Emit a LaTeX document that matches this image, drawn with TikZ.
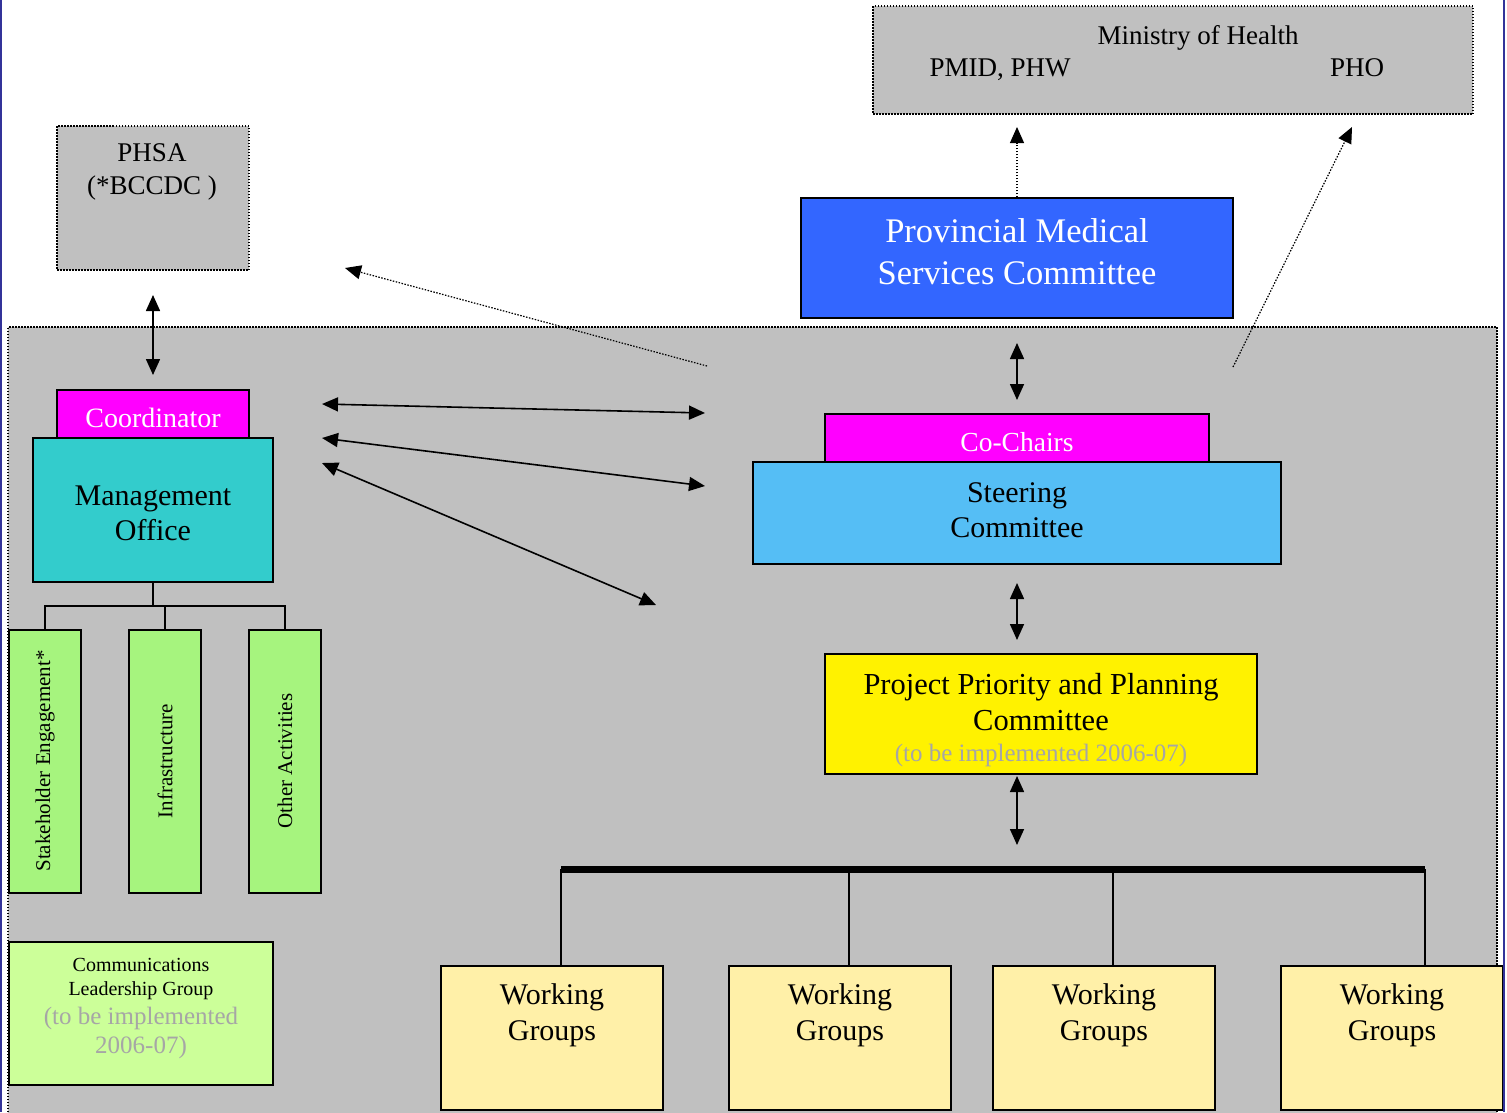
\documentclass[tikz,border=0pt]{standalone}
\usepackage{fontspec}
\setmainfont{Liberation Serif}
\usetikzlibrary{arrows.meta, positioning}
\definecolor{panelgray}{HTML}{C0C0C0}
\definecolor{pmscblue}{HTML}{3366FF}
\definecolor{chairpink}{HTML}{FF00FF}
\definecolor{moteal}{HTML}{33CCCC}
\definecolor{scblue}{HTML}{55BEF5}
\definecolor{actgreen}{HTML}{A6F47E}
\definecolor{commgreen}{HTML}{CCFF99}
\definecolor{wgyellow}{HTML}{FFF0A8}
\definecolor{notegray}{HTML}{A6A6A6}
\definecolor{edgeblue}{HTML}{333399}
\newcommand{\fsz}[2]{\fontsize{#1}{#2}\selectfont}

\begin{document}
\begin{tikzpicture}[x=1pt, y=-1pt,
  box/.style={draw, line width=1.5pt, inner sep=0pt},
  dotbox/.style={draw, fill=panelgray, line width=1.2pt, dash pattern=on 1.5pt off 1.5pt, inner sep=0pt},
  dotarrow/.style={line width=1.2pt, dash pattern=on 1.5pt off 1.5pt, -{Triangle[length=16pt,width=14pt]}},
  dblarrow/.style={line width=1.6pt, {Triangle[length=16pt,width=14pt]}-{Triangle[length=16pt,width=14pt]}},
  txt/.style={align=center, inner sep=0pt}]
  \useasboundingbox (0,0) rectangle (1507,1112);
  \fill[white] (0,0) rectangle (1507,1112);

  % shaded panel
  \draw[fill=panelgray, line width=1.2pt, dash pattern=on 1.5pt off 1.5pt] (8,1130) -- (8,327) -- (1497,327) -- (1497,1130);

  % outside bodies
  \node[dotbox, minimum width=600pt, minimum height=108pt] (ministry) at (1173,60) {};
  \node[txt, anchor=base, font=\fsz{27}{33}] (mh) at (1198,44) {Ministry of Health};
  \node[txt, anchor=base, font=\fsz{27}{33}] (pmid) at (1000,76) {PMID, PHW};
  \node[txt, anchor=base, font=\fsz{27}{33}] (pho) at (1357,76) {PHO};

  \node[dotbox, minimum width=192pt, minimum height=144pt] (phsa) at (153,198) {};
  \node[txt, font=\fsz{27}{33}] (phsa-t) at (152,172) {PHSA\\(*BCCDC )};

  \node[box, fill=pmscblue, minimum width=432pt, minimum height=120pt] (pmsc) at (1017,258) {};
  \node[txt, text=white, font=\fsz{34.5}{42}] (pmsc-t) at (1017,252) {Provincial Medical\\Services Committee};

  % management side
  \node[box, fill=chairpink, minimum width=192pt, minimum height=48pt] (coord) at (153,414) {};
  \node[txt, text=white, font=\fsz{28}{33}] (coord-t) at (153,418) {Coordinator};
  \node[box, fill=moteal, minimum width=240pt, minimum height=144pt] (mo) at (153,510) {};
  \node[txt, font=\fsz{30}{35}] (mo-t) at (153,513) {Management\\Office};

  \node[box, fill=actgreen, minimum width=72pt, minimum height=263pt] (se) at (45,761.5) {};
  \node[box, fill=actgreen, minimum width=72pt, minimum height=263pt] (infra) at (165,761.5) {};
  \node[box, fill=actgreen, minimum width=72pt, minimum height=263pt] (other) at (285,761.5) {};
  \node[txt, rotate=90, font=\fsz{21}{25}] (se-t) at (45,761) {Stakeholder Engagement*};
  \node[txt, rotate=90, font=\fsz{21}{25}] (infra-t) at (165,761) {Infrastructure};
  \node[txt, rotate=90, font=\fsz{21}{25}] (other-t) at (285,761) {Other Activities};

  \node[box, fill=commgreen, minimum width=264pt, minimum height=143pt] (comm) at (141,1013.5) {};
  \node[txt, font=\fsz{20}{24}] (comm-t) at (141,979) {Communications\\Leadership Group};
  \node[txt, text=notegray, font=\fsz{25}{29}] (comm-n) at (141,1033) {(to be implemented\\2006-07)};

  % committee side
  \node[box, fill=chairpink, minimum width=384pt, minimum height=48pt] (chairs) at (1017,438) {};
  \node[txt, text=white, font=\fsz{27.5}{33}] (chairs-t) at (1017,442) {Co-Chairs};
  \node[box, fill=scblue, minimum width=528pt, minimum height=102pt] (sc) at (1017,513) {};
  \node[txt, font=\fsz{30}{35}] (sc-t) at (1017,510) {Steering\\Committee};

  \node[box, fill=yellow, minimum width=432pt, minimum height=120pt] (pppc) at (1041,714) {};
  \node[txt, font=\fsz{30.5}{36}] (pppc-t) at (1041,702) {Project Priority and Planning\\Committee};
  \node[txt, text=notegray, font=\fsz{25}{29}] (pppc-n) at (1041,755) {(to be implemented 2006-07)};

  \foreach \i/\x in {1/552, 2/840, 3/1104, 4/1392} {
    \node[box, fill=wgyellow, minimum width=222pt, minimum height=144pt] (wg\i) at (\x,1038) {};
    \node[txt, font=\fsz{30}{36}] (wg\i-t) at (\x,1015) {Working\\Groups};
  }

  % free ends of the connectors
  \coordinate (m1) at (1017,127);
  \coordinate (m2) at (1352,127);
  \coordinate (s1) at (1233,367);
  \coordinate (s2) at (707,366);
  \coordinate (p1) at (345,268);
  \coordinate (p2) at (153,295);
  \coordinate (c1) at (153,375);
  \coordinate (l1) at (322,404);
  \coordinate (r1) at (705,413);
  \coordinate (l2) at (322,438);
  \coordinate (r2) at (705,486);
  \coordinate (l3) at (322,463);
  \coordinate (r3) at (656,605);
  \coordinate (a1) at (1017,343);
  \coordinate (a2) at (1017,400);
  \coordinate (b1) at (1017,583);
  \coordinate (b2) at (1017,640);
  \coordinate (d1) at (1017,776);
  \coordinate (d2) at (1017,845);
  \coordinate (barl) at (561,869);
  \coordinate (bar2) at (849,869);
  \coordinate (bar3) at (1113,869);
  \coordinate (barr) at (1425,869);

  % connectors
  \draw[dotarrow] (pmsc.north) -- (m1);
  \draw[dotarrow] (s1) -- (m2);
  \draw[dotarrow] (s2) -- (p1);
  \draw[dblarrow] (p2) -- (c1);
  \draw[dblarrow] (l1) -- (r1);
  \draw[dblarrow] (l2) -- (r2);
  \draw[dblarrow] (l3) -- (r3);
  \draw[dblarrow] (a1) -- (a2);
  \draw[dblarrow] (b1) -- (b2);
  \draw[dblarrow] (d1) -- (d2);

  \draw[line width=1.5pt] (mo.south) -- ++(0,23) coordinate (fork);
  \draw[line width=1.5pt] (se.north) -- (se.north |- fork) -- (other.north |- fork) -- (other.north);
  \draw[line width=1.5pt] (infra.north) -- (infra.north |- fork);

  \draw[line width=1.5pt] (barl) -- (barl |- wg1.north);
  \draw[line width=1.5pt] (bar2) -- (bar2 |- wg2.north);
  \draw[line width=1.5pt] (bar3) -- (bar3 |- wg3.north);
  \draw[line width=1.5pt] (barr) -- (barr |- wg4.north);
  \draw[line width=7pt] (barl) -- (barr);

  % page edges
  \draw[edgeblue, line width=2pt] (1,0) -- (1,1112);
  \draw[edgeblue, line width=2pt] (1503.5,0) -- (1503.5,1112);
\end{tikzpicture}
\end{document}
